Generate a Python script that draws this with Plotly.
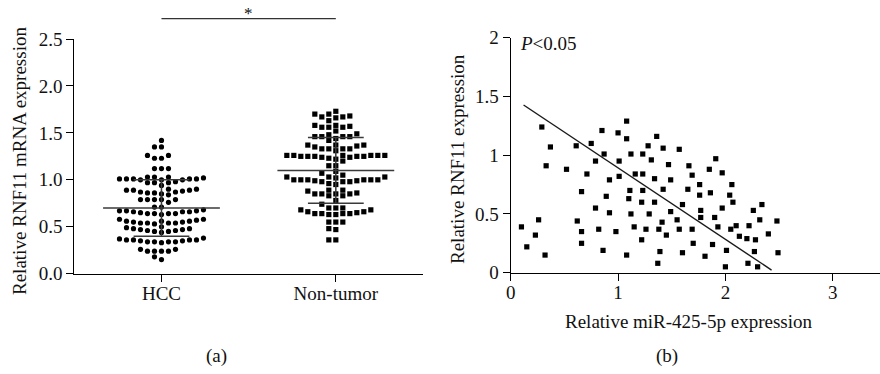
import plotly.graph_objects as go
import numpy as np

W, H = 880, 374
FONT = "Liberation Serif"

# ---------------- data: panel (a) ----------------
categories = ["HCC", "Non-tumor"]
hcc_values = [
    1.42,
    1.35, 1.35,
    1.26, 1.23, 1.23, 1.26,
    1.12, 1.12, 1.12,
    1.03, 1.03, 1.02, 1.03,
    1.01, 1.01, 1.01, 1.00, 1.00, 1.00, 1.01, 1.01,
    0.98, 0.97, 0.97, 0.94, 0.97,
    0.90, 0.89, 0.89, 0.87, 0.86, 0.85, 0.84, 0.86, 0.87, 0.88, 0.89, 0.90,
    0.79, 0.79, 0.79, 0.79, 0.79, 0.76,
    0.71, 0.71,
    0.67, 0.66, 0.66, 0.65, 0.64, 0.64, 0.63, 0.64, 0.64, 0.66, 0.67, 0.67, 0.68,
    0.58, 0.56, 0.56, 0.55, 0.54, 0.54, 0.53, 0.54, 0.54, 0.55, 0.56, 0.57, 0.58,
    0.49, 0.48, 0.47, 0.46, 0.45, 0.44, 0.45, 0.46, 0.47, 0.48, 0.50,
    0.38, 0.37, 0.36, 0.35, 0.34, 0.34, 0.33, 0.34, 0.34, 0.35, 0.36, 0.36, 0.36,
    0.26, 0.24, 0.24, 0.24, 0.24, 0.26,
    0.15, 0.18,
]
nontumor_values = [
    1.73, 1.70, 1.68, 1.66, 1.63, 1.67, 1.67, 1.70,
    1.58, 1.57, 1.56, 1.52, 1.56, 1.56, 1.58,
    1.49, 1.46, 1.46, 1.44, 1.42, 1.46, 1.46, 1.48,
    1.37, 1.37, 1.33, 1.33, 1.31, 1.33, 1.33, 1.36, 1.35, 1.37,
    1.26, 1.26, 1.26, 1.25, 1.25, 1.22, 1.25, 1.20, 1.23, 1.24, 1.24, 1.25, 1.25, 1.26, 1.26, 1.26,
    1.15, 1.15,
    1.07, 1.09,
    1.00, 1.00, 1.00, 1.00, 1.02, 0.98, 1.03, 0.98, 1.03, 0.96, 1.03, 0.95, 1.05, 0.98, 1.00, 0.99, 0.99, 1.00,
    0.89, 0.88, 0.85, 0.85, 0.83, 0.83, 0.85, 0.85, 0.86, 0.89,
    0.78,
    0.70, 0.70, 0.68, 0.66, 0.64, 0.64, 0.63, 0.63, 0.64, 0.64, 0.65, 0.68, 0.66, 0.70, 0.74,
    0.55, 0.55, 0.55, 0.48, 0.47,
    0.36, 0.36,
]
group_means = [0.70, 1.10]
group_sds = [0.30, 0.35]
a_yticks = [0.0, 0.5, 1.0, 1.5, 2.0, 2.5]

# ---------------- data: panel (b) ----------------
mir425 = [
    0.10, 0.15, 0.23, 0.26, 0.29, 0.32, 0.33, 0.37, 0.52, 0.61,
    0.62, 0.66, 0.66, 0.66, 0.71, 0.75, 0.79, 0.79, 0.82, 0.85,
    0.86, 0.87, 0.89, 0.92, 0.92, 0.98, 1.00, 1.01, 1.01, 1.08,
    1.08, 1.08, 1.10, 1.11, 1.12, 1.12, 1.15, 1.16, 1.22, 1.22,
    1.23, 1.23, 1.23, 1.26, 1.28, 1.29, 1.31, 1.34, 1.34, 1.36,
    1.37, 1.38, 1.39, 1.41, 1.42, 1.42, 1.45, 1.47, 1.49, 1.49,
    1.55, 1.57, 1.57, 1.60, 1.60, 1.65, 1.66, 1.69, 1.69, 1.70,
    1.76, 1.76, 1.77, 1.77, 1.81, 1.85, 1.86, 1.88, 1.90, 1.91,
    1.93, 1.97, 1.97, 2.00, 2.01, 2.04, 2.05, 2.06, 2.07, 2.10,
    2.13, 2.20, 2.21, 2.22, 2.26, 2.27, 2.28, 2.30, 2.32, 2.34,
    2.40, 2.48, 2.49,
]
rnf11 = [
    0.39, 0.22, 0.32, 0.45, 1.24, 0.15, 0.91, 1.07, 0.88, 1.08,
    0.44, 0.35, 0.25, 0.69, 0.84, 1.10, 0.95, 0.55, 0.37, 1.21,
    0.19, 1.01, 0.65, 0.79, 0.51, 0.35, 1.19, 0.95, 0.82, 1.29,
    1.14, 0.15, 0.63, 0.70, 1.01, 0.50, 0.39, 0.84, 0.28, 0.60,
    1.01, 0.84, 0.70, 0.37, 1.08, 0.50, 0.96, 0.80, 0.60, 1.16,
    0.08, 0.37, 0.18, 0.43, 1.06, 0.71, 0.32, 0.92, 0.79, 0.52,
    0.45, 1.05, 0.37, 0.58, 0.17, 0.71, 0.91, 0.83, 0.37, 0.25,
    0.66, 0.75, 0.53, 0.47, 0.14, 0.88, 0.68, 0.24, 0.47, 0.97,
    0.39, 0.85, 0.55, 0.05, 0.19, 0.66, 0.37, 0.75, 0.60, 0.40,
    0.31, 0.29, 0.08, 0.40, 0.53, 0.18, 0.28, 0.05, 0.45, 0.58,
    0.33, 0.44, 0.17,
]
fit_intercept = 1.50
fit_slope = -0.608
fit_x_range = [0.12, 2.43]
b_xticks = [0, 1, 2, 3]
b_yticks = [0, 0.5, 1, 1.5, 2]
b_yticktext = ["0", "0.5", "1", "1.5", "2"]

# ---------------- layout geometry (pixels) ----------------
A_LEFT, A_RIGHT, A_TOP, A_BOTTOM = 74.3, 423.0, 39.0, 273.7
B_LEFT, B_RIGHT, B_TOP, B_BOTTOM = 510.7, 880.0, 37.7, 272.7
A_XRANGE = [-0.5, 1.5]
A_YRANGE = [0, 2.5]
B_XRANGE = [0, 3.44]
B_YRANGE = [0, 2]


def px_x(p):
    return p / W


def px_y(p):
    return 1 - p / H


a_px_per_y = (A_BOTTOM - A_TOP) / (A_YRANGE[1] - A_YRANGE[0])
a_px_per_x = (A_RIGHT - A_LEFT) / (A_XRANGE[1] - A_XRANGE[0])
COL_STEP = 7.0 / a_px_per_x
MIN_DY = 5.0


def swarm_offsets(values):
    vals = np.asarray(values, dtype=float)
    order = np.argsort(vals, kind="stable")
    cols = {}
    offs = np.zeros(len(vals))
    seq = [0]
    for j in range(1, 60):
        seq += [-j, j]
    for idx in order:
        ypx = vals[idx] * a_px_per_y
        for c in seq:
            if all(abs(ypx - o) >= MIN_DY for o in cols.get(c, [])):
                cols.setdefault(c, []).append(ypx)
                offs[idx] = c * COL_STEP
                break
    return offs


fig = go.Figure()

groups = [hcc_values, nontumor_values]
symbols = ["circle", "square"]
for gi, vals in enumerate(groups):
    offs = swarm_offsets(vals)
    fig.add_trace(go.Scatter(
        x=gi + offs, y=vals, mode="markers",
        marker=dict(symbol=symbols[gi], size=5.2, color="black", line=dict(width=0)),
        cliponaxis=False, showlegend=False, hoverinfo="skip",
        xaxis="x", yaxis="y"))

MEAN_HALF = 0.335
SD_HALF = 0.16
lx, ly = [], []
for gi, (m, s) in enumerate(zip(group_means, group_sds)):
    lx += [gi - MEAN_HALF, gi + MEAN_HALF, None,
           gi - SD_HALF, gi + SD_HALF, None,
           gi - SD_HALF, gi + SD_HALF, None,
           gi, gi, None]
    ly += [m, m, None, m + s, m + s, None, m - s, m - s, None, m - s, m + s, None]
fig.add_trace(go.Scatter(x=lx, y=ly, mode="lines",
                         line=dict(color="#3a3a3a", width=1.5),
                         showlegend=False, hoverinfo="skip", xaxis="x", yaxis="y"))

fig.add_trace(go.Scatter(
    x=mir425, y=rnf11, mode="markers",
    marker=dict(symbol="square", size=5.2, color="black", line=dict(width=0)),
    cliponaxis=False, showlegend=False, hoverinfo="skip",
    xaxis="x2", yaxis="y2"))
fx = np.array(fit_x_range)
fig.add_trace(go.Scatter(
    x=fx, y=fit_intercept + fit_slope * fx, mode="lines",
    line=dict(color="#1a1a1a", width=1.4),
    showlegend=False, hoverinfo="skip", xaxis="x2", yaxis="y2"))

axis_common = dict(showgrid=False, zeroline=False, showline=True, linecolor="black",
                   linewidth=1.2, ticks="outside", ticklen=7, tickwidth=1.2,
                   tickcolor="black", fixedrange=True, automargin=False,
                   tickfont=dict(family=FONT, size=19, color="#111"))

fig.update_layout(
    width=W, height=H, autosize=False,
    margin=dict(l=0, r=0, t=0, b=0, pad=0, autoexpand=False),
    paper_bgcolor="white", plot_bgcolor="white",
    showlegend=False,
    xaxis=dict(domain=[px_x(A_LEFT), px_x(A_RIGHT)], range=A_XRANGE,
               tickvals=[0, 1], ticktext=categories, anchor="y",
               ticklabelstandoff=-5, **axis_common),
    yaxis=dict(domain=[px_y(A_BOTTOM), px_y(A_TOP)], range=A_YRANGE,
               tickvals=a_yticks, tickformat=".1f", anchor="x", **axis_common),
    xaxis2=dict(domain=[px_x(B_LEFT), px_x(B_RIGHT)], range=B_XRANGE,
                tickvals=b_xticks, anchor="y2", ticklabelstandoff=-5, **axis_common),
    yaxis2=dict(domain=[px_y(B_BOTTOM), px_y(B_TOP)], range=B_YRANGE,
                tickvals=b_yticks, ticktext=b_yticktext, anchor="x2", **axis_common),
)

fig.add_shape(type="line", xref="x", yref="paper", x0=0, x1=1,
              y0=px_y(18.7), y1=px_y(18.7), line=dict(color="#333", width=1.3))

tf = dict(family=FONT, size=19, color="#111")
ann = [
    dict(text="*", x=0.5, xref="x", y=px_y(13), yref="paper", showarrow=False,
         xanchor="center", yanchor="middle", font=dict(family=FONT, size=17, color="#111")),
    dict(text="Relative RNF11 mRNA expression", x=px_x(20), y=px_y(161),
         xref="paper", yref="paper", textangle=-90, showarrow=False,
         xanchor="center", yanchor="middle", font=tf),
    dict(text="Relative RNF11 expression", x=px_x(458), y=px_y(159),
         xref="paper", yref="paper", textangle=-90, showarrow=False,
         xanchor="center", yanchor="middle", font=tf),
    dict(text="Relative miR-425-5p expression", x=px_x(563), y=px_y(321),
         xref="paper", yref="paper", showarrow=False,
         xanchor="left", yanchor="middle", font=tf),
    dict(text="<i>P</i>&lt;0.05", x=px_x(518), y=px_y(43),
         xref="paper", yref="paper", showarrow=False,
         xanchor="left", yanchor="middle", font=tf),
    dict(text="(a)", x=px_x(216), y=px_y(356), xref="paper", yref="paper",
         showarrow=False, xanchor="center", yanchor="middle", font=tf),
    dict(text="(b)", x=px_x(667), y=px_y(356), xref="paper", yref="paper",
         showarrow=False, xanchor="center", yanchor="middle", font=tf),
]
fig.update_layout(annotations=ann)

fig.write_html(
    "out.html",
    config={"displayModeBar": False, "responsive": False},
    post_script="document.body.style.margin='0';document.body.style.padding='0';"
                "document.body.style.overflow='hidden';",
)
